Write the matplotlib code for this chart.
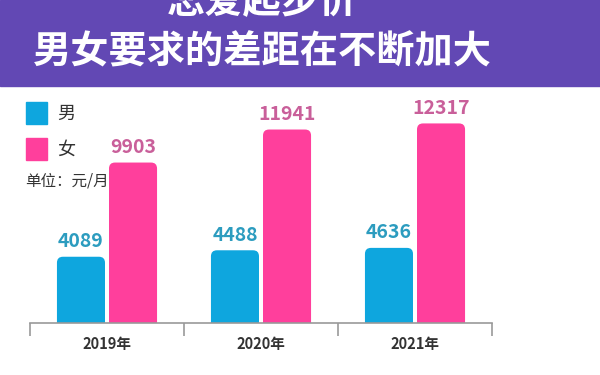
import matplotlib.pyplot as plt
from matplotlib.patches import FancyBboxPatch, Rectangle

plt.rcParams['font.family'] = ['Noto Sans CJK SC', 'DejaVu Sans']

years = ['2019年', '2020年', '2021年']
male = [4089, 4488, 4636]
female = [9903, 11941, 12317]
series_names = ['男', '女']
title_lines = ['恋爱起步价', '男女要求的差距在不断加大']
unit_text = '单位：元/月'

c_male, c_female = '#0ea6de', '#ff3f9c'
c_male_txt, c_female_txt = '#2c9cbf', '#c95f9a'

W, H = 600, 375
fig = plt.figure(figsize=(6, 3.75), dpi=100)

# purple header (top line of the title is cut off, as in the original)
fig.patches.append(Rectangle((0, 1 - 86 / H), 1, 86 / H, transform=fig.transFigure,
                             color='#6248b4', zorder=0))
fig.text(262 / W, 1 - 2 / H, title_lines[0], color='white', fontsize=27.5,
         fontweight='bold', ha='center', va='center')
fig.text(262 / W, 1 - 52 / H, title_lines[1], color='white', fontsize=27.5,
         fontweight='bold', ha='center', va='center')

# legend
for i, (name, col) in enumerate(zip(series_names, [c_male, c_female])):
    y0 = 102 + i * 36
    fig.patches.append(Rectangle((26 / W, 1 - (y0 + 22) / H), 21 / W, 22 / H,
                                 transform=fig.transFigure, color=col))
    fig.text(57 / W, 1 - (y0 + 12) / H, name, fontsize=13, color='#333333',
             ha='left', va='center')
fig.text(25 / W, 1 - 181 / H, unit_text, fontsize=11.2, color='#333333',
         ha='left', va='center')

# chart axes: x in px 30..492, baseline at 323 px
ax = fig.add_axes([30 / W, 1 - 323 / H, 462 / W, 233 / H])
ymax = 14380
ax.set_xlim(0, 3)
ax.set_ylim(0, ymax)

bw = 0.312
gap = 0.026
px_x = 3 / 462
px_y = ymax / 233
r = 6 * px_x
for i in range(len(years)):
    for val, col, tcol, sign in [(male[i], c_male, c_male_txt, -1),
                                 (female[i], c_female, c_female_txt, 1)]:
        cx = i + 0.5 + sign * (bw / 2 + gap / 2)
        patch = FancyBboxPatch((cx - bw / 2, -10 * px_y), bw, val + 10 * px_y,
                               boxstyle=f'round,pad=0,rounding_size={r}',
                               mutation_aspect=px_y / px_x,
                               facecolor=col, edgecolor='none')
        ax.add_patch(patch)
        ax.annotate(str(val), (cx, val), xytext=(0, 4), textcoords='offset points',
                    ha='center', va='bottom', fontsize=14, fontweight='bold',
                    color=tcol)

for s in ['top', 'left', 'right']:
    ax.spines[s].set_visible(False)
ax.spines['bottom'].set_color('#999999')
ax.spines['bottom'].set_linewidth(1.2)
ax.set_yticks([])
ax.set_xticks([0, 1, 2, 3])
ax.set_xticklabels([])
ax.tick_params(axis='x', which='major', length=9, width=1.2, color='#999999')
ax.set_xticks([0.5, 1.5, 2.5], minor=True)
ax.set_xticklabels(years, minor=True, fontsize=10.5, fontweight='bold', color='#333333')
ax.tick_params(axis='x', which='minor', length=0, pad=9)
ax.patch.set_alpha(0)

fig.savefig('out.png', dpi=100, facecolor='white')
